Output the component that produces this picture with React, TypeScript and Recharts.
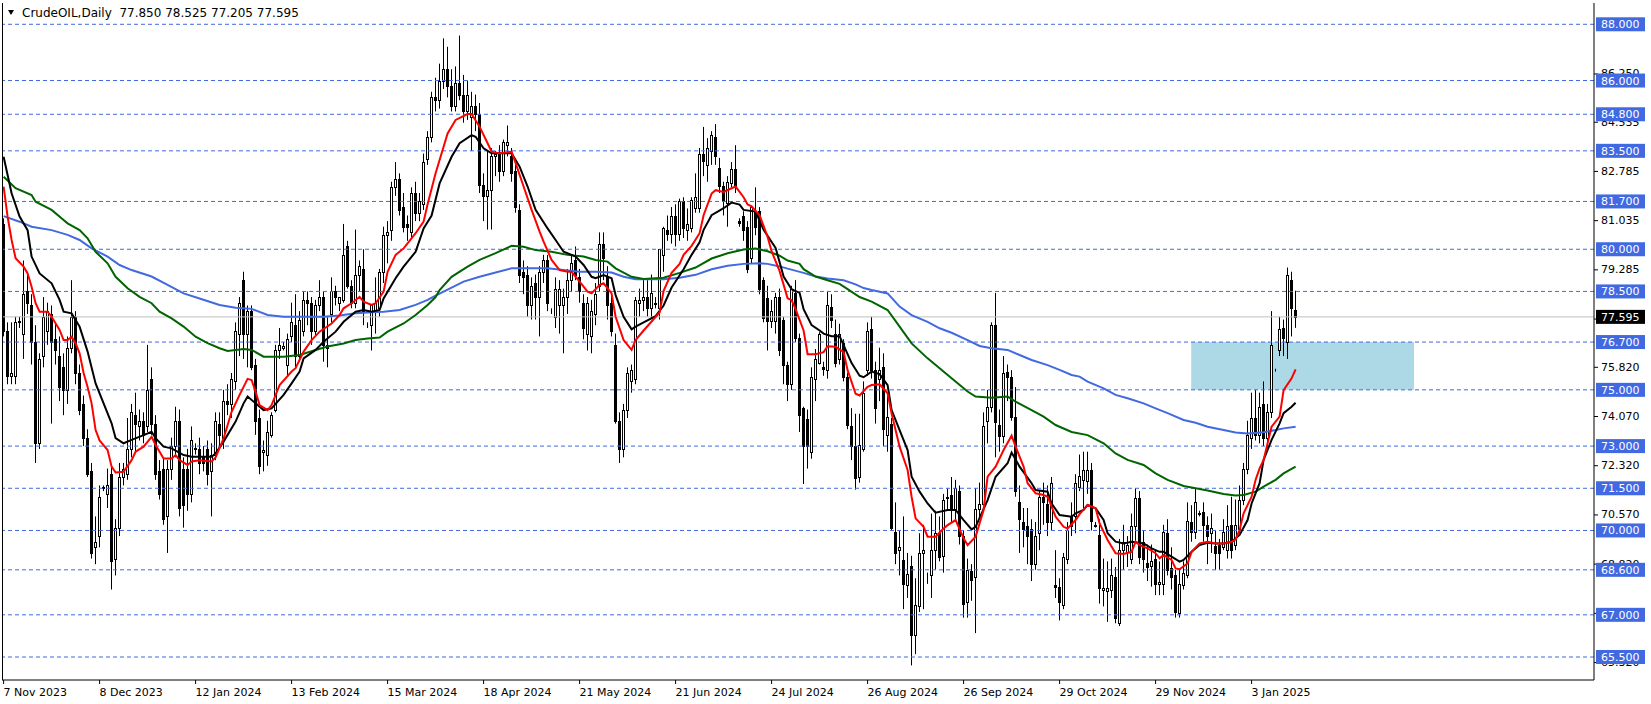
import React from "react";
import { Bar, ComposedChart, Line, ReferenceArea, ReferenceLine, XAxis, YAxis } from "recharts";

const title = "CrudeOIL,Daily  77.850 78.525 77.205 77.595";

// daily bars: [open, high, low, close]
const candles: number[][] = [
  [80.9, 81.1, 76.9, 77.1], [77.1, 77.4, 75.2, 75.5], [75.5, 77.4, 75.2, 75.6], [75.5, 77.6, 75.2, 77.4],
  [77.4, 77.6, 77.2, 77.45], [77.0, 79.6, 76.1, 78.4], [78.5, 79.2, 77.7, 78.1], [78.0, 78.4, 75.9, 76.7],
  [76.7, 77.3, 72.4, 73.1], [73.1, 76.3, 72.9, 76.1], [76.2, 78.3, 75.8, 77.6], [77.1, 78.1, 76.6, 77.8],
  [77.7, 78.0, 73.8, 76.7], [76.8, 77.4, 75.9, 76.4], [76.2, 76.9, 74.6, 75.1], [75.8, 76.3, 74.1, 75.0],
  [75.0, 76.9, 74.5, 76.5], [76.5, 78.9, 76.3, 77.6], [77.6, 77.8, 75.2, 75.6], [75.6, 75.9, 74.1, 74.3],
  [74.5, 74.8, 73.0, 73.3], [73.3, 73.6, 71.9, 72.0], [72.1, 72.4, 69.0, 69.2], [69.4, 70.5, 68.8, 69.6],
  [69.8, 71.6, 69.4, 71.2], [71.5, 71.6, 71.4, 71.55], [71.3, 72.2, 70.8, 71.6], [72.0, 72.3, 67.9, 68.9],
  [69.0, 70.4, 68.4, 70.1], [70.1, 72.4, 69.8, 71.9], [71.9, 72.4, 71.6, 72.2], [72.0, 74.0, 71.8, 72.9],
  [72.9, 74.5, 72.6, 74.2], [74.1, 74.9, 72.8, 73.8], [73.7, 74.3, 73.2, 73.9], [73.9, 74.2, 73.1, 73.4],
  [73.7, 76.6, 73.5, 75.0], [75.4, 75.8, 73.4, 73.8], [73.8, 74.1, 71.8, 72.0], [72.1, 72.5, 71.1, 71.3],
  [72.2, 72.6, 70.2, 70.4], [70.5, 72.5, 69.2, 72.2], [72.2, 73.3, 71.8, 73.0], [73.0, 74.4, 72.6, 73.9],
  [73.9, 74.3, 70.5, 70.8], [72.2, 72.6, 70.1, 70.9], [72.2, 72.9, 70.7, 71.3], [71.3, 73.7, 71.0, 73.2],
  [72.9, 73.1, 72.7, 72.95], [72.9, 73.3, 72.0, 72.4], [72.6, 73.0, 72.1, 72.4], [72.9, 73.2, 71.6, 72.0],
  [72.1, 73.1, 70.5, 72.7], [72.7, 74.2, 72.5, 73.9],
  [73.8, 74.2, 72.9, 73.4], [73.3, 75.0, 72.9, 74.6], [74.6, 75.2, 74.1, 74.5], [74.5, 75.6, 74.0, 75.4],
  [75.3, 77.4, 75.0, 77.1], [77.0, 78.3, 76.2, 78.1], [78.9, 79.2, 76.1, 77.0], [77.0, 78.0, 75.8, 77.8],
  [77.8, 78.0, 75.7, 75.8], [75.9, 76.1, 73.4, 73.9], [74.0, 74.3, 72.0, 72.3], [72.8, 73.2, 72.1, 72.85],
  [72.7, 73.9, 72.3, 73.5], [73.4, 74.2, 73.3, 74.1], [74.3, 76.6, 74.2, 76.4], [76.4, 77.2, 76.1, 76.6],
  [76.5, 76.7, 76.4, 76.55], [75.9, 77.0, 75.5, 76.8], [76.9, 78.1, 76.7, 77.4], [77.3, 78.4, 75.8, 76.2],
  [76.2, 77.8, 76.0, 77.5], [77.1, 78.5, 76.9, 78.2], [78.2, 78.5, 77.3, 78.1], [78.1, 78.3, 76.6, 77.1],
  [77.1, 78.2, 76.9, 78.0], [78.0, 78.9, 77.8, 78.3], [78.3, 78.5, 76.0, 76.6], [76.6, 77.6, 75.8, 76.5],
  [77.7, 79.0, 77.4, 78.5], [78.5, 78.7, 78.0, 78.3], [78.1, 78.3, 77.8, 78.3], [78.2, 80.9, 78.1, 79.8],
  [80.1, 80.3, 78.6, 78.7], [78.7, 78.9, 77.9, 78.1], [78.1, 80.7, 77.9, 79.1], [79.1, 79.6, 78.5, 79.4],
  [79.3, 80.0, 77.3, 77.8], [77.3, 77.4, 77.2, 77.3], [77.3, 78.0, 76.4, 78.0], [77.8, 79.0, 77.0, 78.1],
  [77.9, 79.3, 77.6, 79.2], [79.2, 80.8, 78.8, 80.5], [80.5, 81.0, 79.5, 80.6], [80.7, 82.4, 80.3, 82.2],
  [82.2, 83.1, 81.9, 82.5], [82.5, 82.7, 81.2, 81.4], [81.5, 82.0, 80.6, 80.8], [80.9, 81.2, 80.3, 80.8],
  [80.6, 82.2, 80.4, 82.0], [82.0, 82.4, 81.0, 81.3], [81.3, 82.0, 81.0, 81.7], [81.6, 83.4, 81.4, 83.1],
  [83.2, 84.2, 83.0, 84.0], [84.0, 85.6, 83.8, 85.4],
  [85.4, 86.1, 84.9, 85.3], [85.3, 86.6, 85.0, 86.0], [86.0, 87.5, 85.7, 86.4], [86.4, 87.2, 85.4, 85.8],
  [85.8, 86.4, 84.9, 85.1], [85.1, 86.5, 84.9, 85.9], [85.9, 87.6, 85.3, 85.5], [85.5, 86.2, 84.5, 84.9],
  [84.9, 86.0, 84.6, 85.5], [84.7, 85.6, 83.5, 85.1], [85.1, 85.5, 84.2, 84.8], [84.8, 85.2, 82.0, 82.3],
  [82.3, 82.7, 81.0, 81.9], [81.9, 83.5, 80.7, 82.1], [82.1, 83.6, 80.7, 83.3], [83.3, 83.5, 82.6, 83.4],
  [83.4, 83.7, 82.4, 82.8], [82.8, 83.9, 82.6, 83.8], [83.7, 84.4, 83.3, 83.8], [83.3, 83.6, 82.4, 82.7],
  [82.8, 83.0, 81.3, 81.5], [81.4, 81.6, 78.8, 79.1], [79.2, 79.6, 78.4, 79.0], [79.1, 79.4, 77.6, 78.0],
  [78.0, 79.0, 77.5, 78.7], [78.8, 79.1, 77.5, 78.3], [78.3, 79.4, 76.9, 79.2], [79.2, 79.8, 78.8, 79.6],
  [79.6, 79.8, 77.8, 78.1], [77.8, 77.9, 77.7, 77.8], [77.6, 79.0, 77.2, 78.6], [78.0, 78.9, 77.0, 78.6],
  [78.0, 78.6, 76.3, 78.3], [78.3, 79.3, 77.7, 78.9], [78.9, 79.8, 78.5, 79.5], [79.6, 80.1, 78.9, 79.1],
  [79.0, 79.3, 78.1, 78.5], [78.1, 78.4, 76.8, 77.2], [77.0, 78.3, 76.4, 78.1], [76.9, 78.2, 76.3, 77.8],
  [77.7, 78.8, 77.3, 78.4], [78.7, 80.6, 78.5, 80.2], [80.2, 80.6, 78.9, 79.7], [79.0, 79.4, 77.5, 78.0],
  [78.1, 78.4, 76.9, 77.1], [76.6, 77.0, 73.8, 73.9], [73.9, 74.2, 72.4, 72.9], [72.9, 74.5, 72.6, 74.3],
  [74.3, 75.8, 74.0, 75.6], [75.3, 75.9, 74.9, 75.7], [75.4, 78.3, 75.2, 78.2], [78.1, 78.6, 77.6, 78.2],
  [78.2, 78.9, 77.8, 78.3],
  [78.3, 78.9, 77.6, 77.9], [77.9, 79.1, 77.55, 78.45], [78.1, 78.3, 77.9, 78.05], [77.9, 80.0, 77.5, 80.0],
  [79.8, 80.8, 79.2, 80.75], [80.7, 81.2, 80.3, 80.55], [80.55, 81.5, 80.2, 81.2], [81.2, 81.6, 80.1, 80.55],
  [80.55, 81.8, 80.3, 81.7], [81.7, 81.85, 80.4, 80.75], [80.7, 81.45, 80.3, 80.9], [80.75, 81.85, 80.6, 81.75],
  [81.45, 82.7, 81.3, 81.85], [81.45, 83.6, 81.3, 83.4], [83.4, 84.35, 82.6, 83.15], [83.0, 83.95, 82.4, 83.6],
  [83.5, 84.2, 83.0, 84.05], [84.0, 84.45, 83.0, 83.3], [82.9, 83.25, 82.0, 82.25], [82.25, 82.4, 81.2, 81.7],
  [81.65, 82.6, 80.8, 82.4], [82.35, 83.1, 82.2, 82.85], [82.85, 83.7, 82.0, 82.25], [81.0, 81.1, 80.8, 80.95],
  [81.2, 81.35, 80.3, 80.7], [80.8, 81.0, 79.15, 79.3], [79.7, 81.55, 79.5, 81.5], [81.35, 82.2, 80.5, 80.8],
  [81.35, 81.5, 78.4, 78.6], [78.9, 79.0, 77.4, 77.55], [78.25, 78.7, 76.4, 77.45], [77.45, 78.2, 77.2, 77.8],
  [77.45, 78.45, 77.0, 78.3], [78.3, 78.6, 76.2, 76.4], [77.5, 77.6, 75.2, 75.9], [75.9, 76.0, 74.6, 75.2],
  [75.2, 78.7, 75.0, 78.6], [78.45, 78.9, 76.7, 76.85], [76.85, 77.0, 73.5, 74.1], [74.35, 74.4, 71.65, 73.0],
  [73.95, 74.3, 72.2, 73.0], [72.8, 75.8, 72.55, 75.45], [75.4, 76.45, 74.6, 76.1], [75.95, 77.05, 75.9, 77.0],
  [75.8, 76.0, 75.5, 75.75], [75.7, 78.5, 75.4, 78.0], [77.95, 78.4, 77.2, 77.5], [77.0, 77.5, 75.8, 75.95],
  [76.1, 77.35, 75.9, 77.0], [76.65, 76.8, 75.3, 75.45], [75.45, 75.6, 73.6, 73.75], [73.7, 74.35, 72.5, 73.0],
  [73.0, 74.15, 71.45, 71.85], [71.9, 74.15, 71.7, 73.05], [72.9, 75.3, 72.8, 74.9],
  [75.7, 77.4, 75.5, 77.1], [77.15, 77.6, 75.4, 75.7], [75.7, 76.0, 73.8, 74.35], [75.4, 76.5, 74.6, 75.7],
  [75.8, 76.3, 73.0, 73.6], [73.4, 74.9, 72.8, 74.05], [73.8, 74.0, 70.0, 70.1], [69.95, 71.0, 68.8, 69.2],
  [69.3, 70.0, 68.4, 69.4], [68.95, 70.5, 67.2, 68.1], [68.05, 69.2, 67.6, 68.45], [68.75, 69.1, 65.2, 66.3],
  [66.3, 68.3, 65.6, 67.35], [67.3, 69.9, 67.1, 69.2], [69.2, 70.2, 67.2, 69.3], [68.3, 68.5, 68.1, 68.3],
  [68.4, 70.6, 67.6, 69.3], [69.3, 70.7, 68.6, 69.9], [69.9, 70.5, 68.9, 69.05], [69.1, 71.3, 68.5, 71.1],
  [71.15, 71.5, 70.7, 71.2], [71.25, 71.9, 70.3, 70.75], [70.75, 71.8, 70.3, 71.5], [71.4, 71.6, 69.5, 69.8],
  [69.8, 70.0, 66.9, 67.4], [67.45, 69.0, 66.9, 68.6], [68.55, 68.8, 67.5, 68.25], [68.35, 71.5, 66.35, 70.75],
  [70.75, 71.7, 70.4, 70.95], [70.95, 74.2, 70.9, 73.7], [73.9, 75.0, 73.1, 74.4], [74.4, 77.4, 74.2, 77.3],
  [77.3, 78.45, 72.6, 73.85], [73.75, 74.3, 72.8, 73.35], [73.35, 76.2, 73.1, 75.6], [75.65, 75.9, 74.6, 75.45],
  [75.45, 75.7, 73.9, 74.05], [74.05, 75.1, 71.2, 71.4], [71.0, 71.6, 69.2, 70.4], [70.3, 70.8, 69.4, 70.05],
  [70.15, 70.8, 68.8, 69.8], [70.05, 70.4, 68.2, 68.8], [68.8, 70.3, 68.6, 69.8], [69.9, 71.4, 69.3, 71.2],
  [71.2, 71.7, 70.2, 71.0], [70.95, 71.6, 69.8, 70.3], [70.3, 71.9, 70.0, 71.7], [68.05, 69.3, 67.6, 68.0],
  [68.0, 68.3, 66.8, 67.45], [67.35, 69.2, 67.2, 69.05], [69.0, 70.3, 68.8, 70.0], [70.5, 71.0, 69.8, 70.15],
  [70.5, 72.0, 69.9, 71.7], [71.55, 72.7, 71.4, 71.95],
  [71.8, 72.8, 70.8, 72.15], [71.75, 72.8, 71.3, 72.15], [72.15, 72.4, 70.0, 70.35], [70.2, 70.3, 70.1, 70.15],
  [69.85, 70.4, 67.4, 67.95], [67.9, 69.0, 67.3, 67.95], [67.85, 68.9, 66.75, 67.95], [67.9, 69.0, 67.6, 68.4],
  [68.35, 68.7, 66.7, 66.9], [66.7, 69.7, 66.6, 69.3], [69.3, 70.2, 68.6, 69.6], [69.25, 69.8, 68.7, 69.5],
  [69.0, 70.6, 68.8, 70.15], [70.15, 71.5, 69.6, 71.15], [71.15, 71.4, 68.8, 69.05], [69.6, 70.0, 68.5, 69.0],
  [68.85, 69.5, 68.2, 68.7], [68.75, 69.5, 68.0, 68.9], [69.0, 69.3, 67.7, 68.1], [68.1, 68.9, 67.7, 68.15],
  [68.1, 70.2, 67.7, 69.95], [69.9, 70.4, 68.4, 68.6], [68.65, 69.4, 67.9, 68.35], [68.4, 68.6, 66.9, 67.1],
  [67.05, 68.6, 66.9, 68.1], [68.05, 68.9, 67.9, 68.5], [68.4, 71.0, 68.3, 70.35], [70.3, 70.9, 69.6, 69.95],
  [69.95, 71.5, 69.7, 71.0], [70.6, 70.7, 70.5, 70.62], [70.65, 71.0, 69.6, 70.2], [70.2, 70.5, 68.8, 69.8],
  [69.9, 70.6, 69.2, 70.1], [69.45, 70.0, 68.6, 69.2], [69.5, 69.7, 68.6, 69.2], [69.4, 70.4, 69.3, 69.95],
  [69.3, 70.9, 69.0, 70.15], [70.2, 71.2, 69.0, 69.3], [69.5, 71.1, 69.3, 70.2], [70.05, 71.6, 69.9, 71.1],
  [71.1, 72.4, 70.9, 72.2], [72.2, 73.9, 72.0, 73.4], [73.3, 74.9, 72.9, 74.0], [74.0, 75.0, 73.2, 73.4],
  [73.4, 74.9, 73.1, 74.4], [74.5, 75.3, 73.0, 73.3], [73.3, 74.5, 72.8, 74.2], [74.2, 77.8, 74.0, 76.6],
  [75.7, 75.75, 75.65, 75.7], [76.4, 77.6, 76.2, 77.15], [77.2, 77.5, 76.2, 76.85], [76.7, 79.35, 76.1, 79.1],
  [78.9, 79.2, 76.9, 77.9], [77.85, 78.525, 77.205, 77.595],
];

// moving averages: [bar index, value]
const redMa: number[][] = [
  [0, 82.23], [1, 81.16], [2, 80.33], [3, 79.68], [5, 79.38], [6, 79.14], [7, 78.67], [8, 78.08], [9, 77.78],
  [11, 77.78], [12, 77.6], [14, 77.13], [15, 76.77], [16, 76.77], [17, 76.89], [18, 76.66], [19, 76.3],
  [20, 75.6], [21, 75.1], [22, 74.52], [23, 73.57], [24, 73.2], [26, 72.86], [27, 72.27], [28, 72.06],
  [30, 72.09], [32, 72.5], [33, 72.8], [35, 72.98], [37, 73.33], [38, 73.04], [40, 72.56], [42, 72.56],
  [43, 72.68], [44, 72.5], [46, 72.33], [47, 72.45], [49, 72.5], [52, 72.45], [53, 72.6], [55, 73.27],
  [57, 74.22], [59, 74.82], [61, 75.39], [62, 75.35], [63, 74.93], [64, 74.46], [66, 74.28], [67, 74.46],
  [69, 75.17], [72, 75.65], [73, 75.77], [75, 76.36], [77, 76.77], [79, 77.07], [82, 77.36], [84, 77.66],
  [85, 77.9], [87, 78.08], [89, 78.31], [90, 78.14], [92, 78.02], [93, 78.08], [95, 78.49], [96, 79.2],
  [98, 79.8], [100, 80.03], [101, 80.21], [103, 80.57], [105, 80.98], [106, 81.6], [108, 82.7], [111, 84.12],
  [113, 84.6], [116, 84.81], [117, 84.81], [119, 84.36], [121, 83.77], [122, 83.47], [124, 83.41], [127, 83.47],
  [128, 83.06], [130, 82.23], [132, 81.4], [134, 80.63], [135, 80.27], [137, 79.62], [139, 79.26], [141, 79.2],
  [142, 79.2], [144, 78.85], [146, 78.49], [147, 78.43], [149, 78.73], [150, 78.79], [152, 78.43], [153, 77.6],
  [155, 76.77], [157, 76.42], [158, 76.77], [160, 77.11], [162, 77.43], [164, 77.75], [165, 78.52],
  [167, 79.16], [169, 79.48], [170, 79.8], [172, 80.12], [174, 80.57], [175, 81.21], [177, 81.98], [178, 82.1],
  [180, 82.04], [182, 82.17], [183, 82.23], [185, 81.85], [186, 81.59], [187, 81.53], [189, 81.21],
  [191, 80.44], [192, 79.93], [194, 79.22], [196, 78.26], [197, 78.19], [198, 77.87], [200, 77.11],
  [201, 76.27], [203, 76.27], [205, 76.34], [206, 76.55], [208, 76.53], [210, 76.34], [211, 75.7],
  [213, 74.86], [214, 74.8], [216, 75.11], [217, 75.17], [219, 75.2], [221, 74.88], [222, 74.16],
  [224, 72.98], [226, 72.15], [227, 71.2], [228, 70.43], [230, 70.13], [231, 69.78], [233, 69.78],
  [235, 70.07], [236, 70.19], [238, 70.37], [240, 69.72], [241, 69.48], [243, 69.78], [245, 70.73],
  [246, 71.91], [248, 72.27], [250, 72.86], [252, 73.37], [253, 72.98], [255, 72.27], [256, 71.68],
  [258, 71.32], [260, 71.26], [261, 71.2], [263, 70.49], [265, 70.13], [266, 70.07], [268, 70.37],
  [269, 70.58], [271, 70.91], [273, 70.79], [274, 70.25], [276, 69.66], [278, 69.19], [280, 69.16],
  [282, 69.24], [283, 69.6], [284, 69.48], [286, 69.36], [288, 69.19], [289, 69.01], [290, 69.13],
  [292, 68.95], [293, 68.65], [294, 68.62], [296, 68.83], [297, 69.24], [299, 69.54], [301, 69.6],
  [303, 69.54], [305, 69.54], [307, 69.6], [308, 69.68], [309, 70.02], [310, 70.61], [312, 71.2],
  [313, 71.8], [314, 72.21], [315, 72.51], [316, 73.1], [317, 73.69], [319, 74.05], [320, 74.99],
  [322, 75.41], [323, 75.73],
];

const blackMa: number[][] = [
  [0, 83.29], [2, 81.99], [4, 81.16], [6, 80.68], [7, 79.74], [9, 79.14], [12, 78.79], [14, 78.2],
  [15, 77.78], [17, 77.72], [19, 77.25], [21, 76.36], [23, 75.23], [25, 74.52], [27, 73.81], [28, 73.28],
  [30, 73.1], [32, 73.22], [35, 73.39], [37, 73.51], [38, 73.28], [40, 72.98], [42, 72.92], [45, 72.68],
  [47, 72.62], [49, 72.62], [52, 72.62], [53, 72.74], [55, 73.16], [58, 73.87], [60, 74.52], [61, 74.76],
  [63, 74.52], [65, 74.28], [67, 74.34], [70, 74.82], [72, 75.23], [74, 75.65], [75, 76.12], [78, 76.42],
  [80, 76.71], [83, 77.07], [85, 77.42], [88, 77.78], [90, 77.84], [92, 77.78], [94, 77.84], [95, 78.25],
  [98, 78.97], [100, 79.38], [103, 79.91], [105, 80.74], [107, 81.2], [109, 82.34], [112, 83.29],
  [114, 83.77], [117, 84.06], [118, 84.0], [120, 83.59], [122, 83.41], [125, 83.41], [127, 83.41],
  [129, 82.94], [131, 82.23], [133, 81.4], [136, 80.74], [138, 80.33], [140, 79.91], [142, 79.8],
  [143, 79.74], [145, 79.44], [147, 79.02], [148, 78.97], [150, 79.08], [152, 78.97], [153, 78.37],
  [155, 77.6], [157, 77.15], [158, 77.25], [160, 77.4], [163, 77.62], [165, 78.0], [167, 78.64],
  [170, 79.29], [172, 79.8], [174, 80.25], [175, 80.69], [177, 81.21], [180, 81.46], [182, 81.66],
  [184, 81.59], [185, 81.4], [188, 81.34], [190, 80.69], [193, 80.05], [195, 79.03], [197, 78.58],
  [199, 78.45], [200, 77.87], [202, 77.3], [204, 77.11], [205, 77.0], [207, 76.91], [209, 76.91],
  [210, 76.59], [212, 75.95], [214, 75.5], [215, 75.45], [217, 75.65], [219, 75.56], [221, 75.17],
  [222, 74.28], [224, 73.57], [226, 72.86], [227, 71.91], [229, 71.38], [231, 70.96], [233, 70.63],
  [236, 70.73], [238, 70.73], [240, 70.37], [242, 70.04], [243, 70.13], [246, 71.08], [248, 71.91],
  [251, 72.39], [252, 72.77], [254, 72.27], [257, 71.68], [258, 71.44], [261, 71.38], [262, 70.96],
  [264, 70.55], [267, 70.49], [268, 70.61], [270, 70.73], [271, 70.91], [273, 70.79], [275, 70.37],
  [276, 69.9], [278, 69.6], [280, 69.54], [282, 69.6], [285, 69.54], [287, 69.36], [289, 69.24],
  [290, 69.24], [292, 69.07], [294, 68.89], [295, 68.95], [297, 69.24], [299, 69.48], [301, 69.56],
  [303, 69.54], [305, 69.54], [307, 69.6], [309, 69.84], [311, 70.37], [312, 70.96], [314, 71.68],
  [315, 72.51], [317, 73.22], [319, 73.81], [320, 74.17], [322, 74.4], [323, 74.54],
];

const greenMa: number[][] = [
  [0, 82.58], [3, 82.17], [7, 81.93], [8, 81.69], [12, 81.4], [15, 81.04], [16, 80.92], [19, 80.68],
  [21, 80.39], [23, 79.91], [26, 79.5], [28, 79.02], [31, 78.61], [34, 78.31], [37, 78.08], [39, 77.78],
  [42, 77.54], [45, 77.25], [48, 76.89], [51, 76.66], [54, 76.48], [56, 76.38], [60, 76.45], [62, 76.42],
  [65, 76.18], [70, 76.18], [74, 76.24], [78, 76.42], [81, 76.54], [85, 76.65], [88, 76.77], [91, 76.83],
  [94, 76.86], [96, 77.07], [100, 77.36], [103, 77.66], [106, 78.02], [108, 78.3], [109, 78.55],
  [112, 79.02], [116, 79.38], [119, 79.62], [123, 79.86], [127, 80.12], [130, 80.09], [133, 79.97],
  [137, 79.91], [141, 79.8], [145, 79.74], [148, 79.62], [151, 79.56], [153, 79.32], [157, 79.02],
  [160, 78.94], [165, 78.99], [169, 79.16], [173, 79.35], [177, 79.67], [181, 79.86], [185, 79.99],
  [188, 80.03], [191, 79.93], [194, 79.77], [196, 79.6], [199, 79.48], [200, 79.29], [203, 79.03],
  [206, 78.9], [209, 78.77], [211, 78.58], [214, 78.3], [217, 78.14], [221, 77.84], [224, 77.25],
  [227, 76.65], [231, 76.12], [234, 75.77], [237, 75.41], [241, 74.94], [243, 74.76], [247, 74.72],
  [251, 74.76], [253, 74.58], [257, 74.28], [260, 74.05], [263, 73.75], [267, 73.5], [271, 73.39],
  [275, 73.1], [278, 72.74], [281, 72.51], [285, 72.33], [288, 72.03], [291, 71.8], [295, 71.58],
  [298, 71.5], [301, 71.42], [305, 71.3], [308, 71.24], [310, 71.26], [313, 71.38], [315, 71.56],
  [318, 71.8], [320, 72.03], [323, 72.27],
];

const blueMa: number[][] = [
  [0, 81.18], [4, 80.98], [7, 80.8], [12, 80.68], [16, 80.51], [19, 80.33], [22, 80.03], [26, 79.74],
  [29, 79.44], [32, 79.26], [37, 79.03], [41, 78.73], [45, 78.43], [49, 78.25], [54, 78.02], [58, 77.92],
  [62, 77.88], [66, 77.66], [70, 77.6], [75, 77.6], [80, 77.6], [84, 77.64], [88, 77.72], [92, 77.76],
  [95, 77.78], [99, 77.84], [103, 78.02], [106, 78.2], [108, 78.35], [110, 78.49], [115, 78.85],
  [119, 79.02], [123, 79.17], [127, 79.32], [132, 79.32], [136, 79.32], [140, 79.26], [144, 79.2],
  [148, 79.2], [152, 79.17], [155, 79.02], [158, 78.93], [162, 78.93], [165, 78.93], [169, 78.99],
  [173, 79.09], [177, 79.29], [181, 79.41], [185, 79.48], [189, 79.5], [191, 79.48], [194, 79.39],
  [196, 79.31], [200, 79.16], [203, 79.03], [206, 78.96], [210, 78.9], [213, 78.75], [215, 78.62],
  [217, 78.55], [221, 78.43], [224, 77.96], [227, 77.66], [231, 77.42], [234, 77.19], [237, 77.03],
  [241, 76.77], [244, 76.56], [247, 76.48], [251, 76.42], [254, 76.24], [257, 76.06], [261, 75.88],
  [264, 75.71], [267, 75.53], [269, 75.47], [271, 75.29], [275, 75.05], [278, 74.82], [281, 74.7],
  [285, 74.52], [288, 74.34], [291, 74.17], [295, 73.93], [298, 73.83], [301, 73.69], [305, 73.57],
  [308, 73.48], [311, 73.45], [315, 73.49], [318, 73.57], [320, 73.63], [323, 73.69],
];

const dateTicks = [0, 24, 48, 72, 96, 120, 144, 168, 192, 216, 240, 264, 288, 312];
const dateLabels = [
  "7 Nov 2023", "8 Dec 2023", "12 Jan 2024", "13 Feb 2024", "15 Mar 2024", "18 Apr 2024", "21 May 2024",
  "21 Jun 2024", "24 Jul 2024", "26 Aug 2024", "26 Sep 2024", "29 Oct 2024", "29 Nov 2024", "3 Jan 2025",
];

const levels = [88, 86, 84.8, 83.5, 81.7, 80, 78.5, 76.7, 75, 73, 71.5, 70, 68.6, 67, 65.5];
const scaleTicks = [86.25, 84.535, 82.785, 81.035, 79.285, 77.535, 75.82, 74.07, 72.32, 70.57, 68.82, 67.07, 65.32];
const lastClose = 77.595;
const zoneBars = [296.9, 352.6];
const zonePrices = [75.0, 76.7];

const xDomain = [-0.4, 397.6];
const yDomain = [64.682, 88.757];

const FONT = "DejaVu Sans";

const rows = candles.map(([o, h, l, c], i) => ({ i, o, h, l, c, range: [l, h] }));
const toPts = (pairs: number[][]) => pairs.map(([i, v]) => ({ i, v }));

function Candle(props: any) {
  const { x, y, width, height, payload } = props;
  if (x == null || !payload) return null;
  const { o, h, l, c } = payload;
  const top = Math.min(y, y + height);
  const span = Math.abs(height);
  const ppu = h > l ? span / (h - l) : 0;
  const yOf = (v: number) => top + (h - v) * ppu;
  const cx = Math.round(x + width / 2);
  const bTop = Math.round(yOf(Math.max(o, c)));
  const bBot = Math.round(yOf(Math.min(o, c)));
  const up = c >= o;
  return (
    <g>
      <line x1={cx + 0.5} x2={cx + 0.5} y1={top} y2={top + span} stroke="#000" strokeWidth={1} />
      <rect
        x={cx - 0.5}
        y={bTop + 0.5}
        width={2}
        height={Math.max(bBot - bTop, 0)}
        fill={up ? "#fff" : "#000"}
        stroke="#000"
        strokeWidth={1}
      />
    </g>
  );
}

function DateTick(props: any) {
  const { x, y, payload } = props;
  const k = dateTicks.indexOf(payload.value);
  return (
    <text x={x} y={y + 10} fontSize={11} fontFamily={FONT} fill="#000" textAnchor="start">
      {k >= 0 ? dateLabels[k] : ""}
    </text>
  );
}

function PriceTick(props: any) {
  const { x, y, payload } = props;
  const v: number = payload.value;
  const label = v.toFixed(3);
  if (v === lastClose || levels.includes(v)) {
    return (
      <g>
        <rect x={x + 2} y={y - 7} width={49} height={14} fill={v === lastClose ? "#000" : "#4169E1"} />
        <text x={x + 7} y={y + 4} fontSize={11} fontFamily={FONT} fill="#fff">{label}</text>
      </g>
    );
  }
  return (
    <g>
      <line x1={x} x2={x + 4} y1={y + 0.5} y2={y + 0.5} stroke="#000" strokeWidth={1} />
      <text x={x + 7} y={y + 4} fontSize={11} fontFamily={FONT} fill="#000">{label}</text>
    </g>
  );
}

export default function App() {
  return (
    <div style={{ position: "absolute", left: 0, top: 0, width: 1651, height: 704, background: "#fff", fontFamily: FONT }}>
      <ComposedChart width={1651} height={704} data={rows} margin={{ top: 3, right: 0, bottom: 0, left: 2 }}>
        <XAxis
          type="number"
          dataKey="i"
          domain={xDomain}
          allowDataOverflow
          ticks={dateTicks}
          interval={0}
          height={24}
          tickSize={4}
          tickMargin={2}
          axisLine={{ stroke: "#000" }}
          tickLine={{ stroke: "#000" }}
          tick={<DateTick />}
        />
        <YAxis
          type="number"
          orientation="right"
          domain={yDomain}
          allowDataOverflow
          width={57}
          ticks={[...scaleTicks, ...levels, lastClose]}
          interval={0}
          tickSize={0}
          tickMargin={0}
          tickLine={false}
          axisLine={{ stroke: "#000" }}
          tick={<PriceTick />}
        />
        <ReferenceArea
          x1={zoneBars[0]}
          x2={zoneBars[1]}
          y1={zonePrices[0]}
          y2={zonePrices[1]}
          fill="#ADD8E6"
          fillOpacity={1}
          stroke="none"
        />
        {levels.map((v) => (
          <ReferenceLine key={v} y={v} stroke="#4169E1" strokeWidth={1} strokeDasharray="4 3" />
        ))}
        <ReferenceLine y={lastClose} stroke="#C0C0C0" strokeWidth={1} />
        <Bar dataKey="range" barSize={3} shape={<Candle />} isAnimationActive={false} />
        <Line data={toPts(blueMa)} dataKey="v" type="linear" stroke="#4169E1" strokeWidth={2} dot={false} activeDot={false} isAnimationActive={false} />
        <Line data={toPts(greenMa)} dataKey="v" type="linear" stroke="#006400" strokeWidth={2} dot={false} activeDot={false} isAnimationActive={false} />
        <Line data={toPts(blackMa)} dataKey="v" type="linear" stroke="#000000" strokeWidth={2} dot={false} activeDot={false} isAnimationActive={false} />
        <Line data={toPts(redMa)} dataKey="v" type="linear" stroke="#FF0000" strokeWidth={2} dot={false} activeDot={false} isAnimationActive={false} />
      </ComposedChart>
      <div style={{ position: "absolute", left: 2, top: 3, width: 1, height: 677, background: "#000" }} />
      <div
        style={{
          position: "absolute",
          left: 8,
          top: 10,
          width: 0,
          height: 0,
          borderLeft: "3.5px solid transparent",
          borderRight: "3.5px solid transparent",
          borderTop: "5px solid #000",
        }}
      />
      <div style={{ position: "absolute", left: 22, top: 5, fontSize: 12, lineHeight: "16px", whiteSpace: "pre", color: "#000" }}>
        {title}
      </div>
    </div>
  );
}
